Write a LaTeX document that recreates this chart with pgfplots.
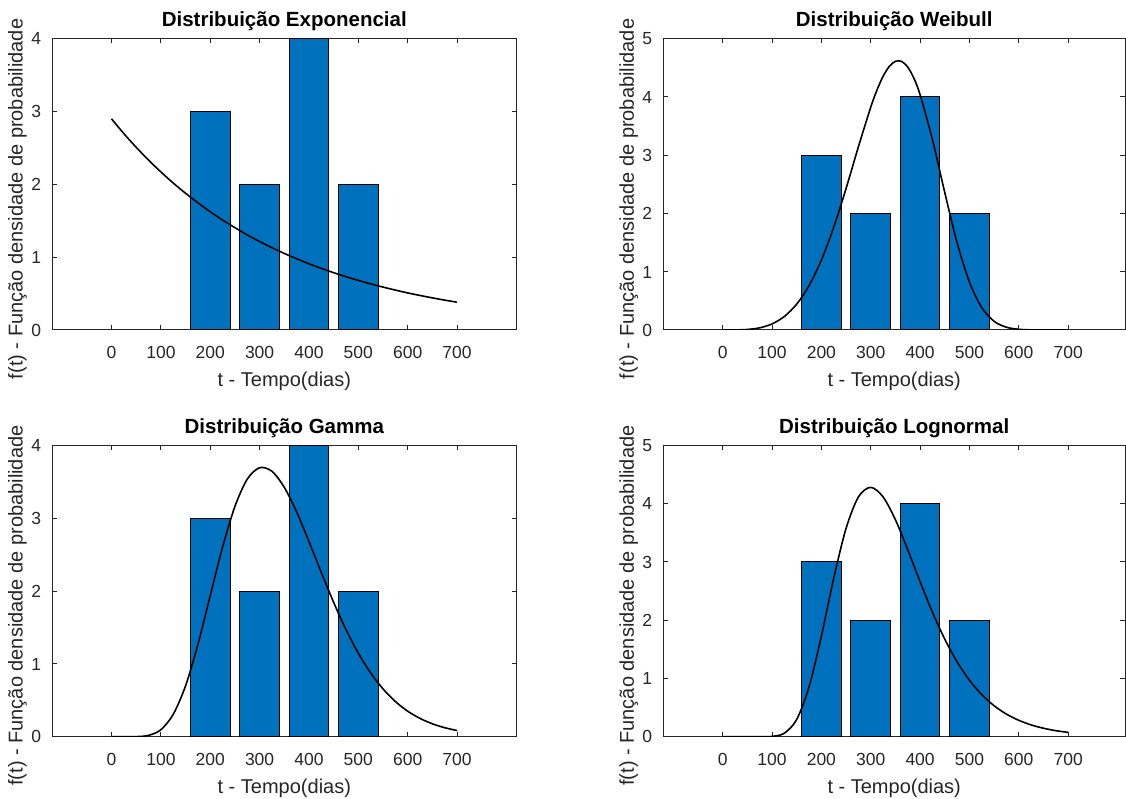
\documentclass[border=0pt]{standalone}
\usepackage{fontspec}
\setmainfont{Liberation Sans}
\usepackage{pgfplots}
\pgfplotsset{compat=1.18}
\definecolor{matblue}{RGB}{0,114,189}
\definecolor{axgray}{RGB}{38,38,38}
\pgfplotsset{
 panel/.style={
  scale only axis, height=291.3pt, anchor=south west,
  xmin=-120, ymin=0,
  xtick={0,100,...,700},
  axis line style={draw=axgray, line width=1pt},
  tick style={draw=axgray, line width=1pt},
  tick align=inside, major tick length=4.6pt,
  tick label style={font=\fontsize{17.5pt}{20pt}\selectfont, text=axgray, inner sep=0pt},
  xticklabel style={anchor=base, yshift=-29pt},
  yticklabel style={anchor=base east, xshift=-11pt, yshift=-6.3pt},
  /pgf/number format/assume math mode=true,
  xlabel={t - Tempo(dias)},
  ylabel={f(t) - Função densidade de probabilidade},
  label style={font=\fontsize{20pt}{24pt}\selectfont, text=axgray, inner sep=0pt},
  xlabel style={at={(axis description cs:0.5,0)}, anchor=base, yshift=-57pt},
  ylabel style={at={(axis description cs:-0.075,0.45)}, anchor=center},
  title style={at={(axis description cs:0.5,1)}, anchor=base, yshift=6pt, font=\bfseries\fontsize{20.5pt}{24pt}\selectfont, inner sep=0pt},
 },
 leftpanel/.style={panel, width=464pt, xmax=820},
 rightpanel/.style={panel, width=461.6pt, xmax=815.1},
 bars/.style={ybar, bar width=80, fill=matblue, draw=black, line width=1pt},
 curve/.style={black, line width=1.6pt, smooth, no markers},
}
\begin{document}
\begin{tikzpicture}
\path[use as bounding box] (0pt,0pt) rectangle (1126pt,799pt);

% Exponencial
\begin{axis}[leftpanel, at={(52.3pt,469pt)}, ymax=4, ytick={0,1,2,3,4},
  title={Distribuição Exponencial}]
\addplot[bars] coordinates {(200,3) (300,2) (400,4) (500,2)};
\addplot[curve] coordinates {
(0,2.899)(25,2.696)(50,2.508)(75,2.333)(100,2.170)(125,2.018)(150,1.877)(175,1.746)
(200,1.624)(225,1.510)(250,1.405)(275,1.306)(300,1.215)(325,1.130)(350,1.051)(375,0.978)
(400,0.909)(425,0.846)(450,0.787)(475,0.732)(500,0.681)(525,0.633)(550,0.589)(575,0.548)
(600,0.509)(625,0.474)(650,0.441)(675,0.410)(700,0.381)};
\end{axis}

% Weibull
\begin{axis}[rightpanel, at={(663.4pt,469pt)}, ymax=5, ytick={0,1,2,3,4,5},
  title={Distribuição Weibull}]
\addplot[bars] coordinates {(200,3) (300,2) (400,4) (500,2)};
\addplot[curve] coordinates {
(0,0)(25,0.001)(50,0.009)(75,0.037)(100,0.104)(125,0.232)(150,0.444)(175,0.761)
(200,1.200)(225,1.763)(250,2.428)(275,3.144)(300,3.824)(312.5,4.115)(325,4.354)(337.5,4.523)
(350,4.612)(362.5,4.610)(375,4.513)(387.5,4.319)
(400,4.038)(425,3.267)(450,2.358)(475,1.497)(500,0.822)(525,0.383)(550,0.148)(575,0.047)
(600,0.012)(625,0.002)(650,0)(675,0)(700,0)};
\end{axis}

% Gamma
\begin{axis}[leftpanel, at={(52.3pt,62.3pt)}, ymax=4, ytick={0,1,2,3,4},
  title={Distribuição Gamma}]
\addplot[bars] coordinates {(200,3) (300,2) (400,4) (500,2)};
\addplot[curve] coordinates {
(0,0)(25,0)(50,0.001)(75,0.018)(100,0.096)(125,0.307)(150,0.699)(175,1.267)
(200,1.938)(225,2.605)(250,3.163)(275,3.537)(300,3.694)(325,3.644)(350,3.424)(375,3.086)
(400,2.680)(425,2.255)(450,1.844)(475,1.470)(500,1.146)(525,0.875)(550,0.656)(575,0.483)
(600,0.350)(625,0.251)(650,0.177)(675,0.123)(700,0.085)};
\end{axis}

% Lognormal
\begin{axis}[rightpanel, at={(663.4pt,62.3pt)}, ymax=5, ytick={0,1,2,3,4,5},
  title={Distribuição Lognormal}]
\addplot[bars] coordinates {(200,3) (300,2) (400,4) (500,2)};
\addplot[curve] coordinates {
(0,0)(25,0)(50,0)(75,0)(100,0.005)(125,0.060)(150,0.295)(175,0.854)
(200,1.726)(225,2.718)(250,3.575)(275,4.115)(300,4.280)(325,4.116)(350,3.723)(375,3.209)
(400,2.660)(425,2.137)(450,1.674)(475,1.284)(500,0.969)(525,0.722)(550,0.531)(575,0.387)
(600,0.281)(625,0.202)(650,0.145)(675,0.103)(700,0.074)};
\end{axis}
\end{tikzpicture}
\end{document}
